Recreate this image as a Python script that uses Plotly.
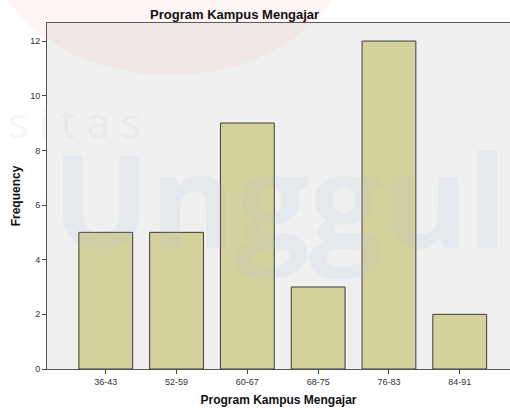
import plotly.graph_objects as go

# data
categories = ["36-43", "52-59", "60-67", "68-75", "76-83", "84-91"]
frequency = [5, 5, 9, 3, 12, 2]
y_ticks = [0, 2, 4, 6, 8, 10, 12]

W, H = 510, 410
L, R, T, B = 47, 0, 23, 41
pw, ph = W - L - R, H - T - B


def px(x):
    return (x - L) / pw


def py(y):
    return (H - B - y) / ph


fig = go.Figure()

fig.add_trace(go.Bar(
    x=list(range(len(categories))),
    y=frequency,
    width=0.76,
    marker=dict(color="#D5D19C", line=dict(color="#3C3C3C", width=1)),
    hoverinfo="skip",
))

# faint watermark (logo background in the original image)
fig.add_shape(type="circle", xref="paper", yref="paper",
              x0=px(-10), x1=px(350), y0=py(75), y1=py(-190),
              line=dict(width=0), fillcolor="rgba(230,130,120,0.07)", layer="above")
fig.add_annotation(text="Unggul", xref="paper", yref="paper",
                   x=px(50), y=py(288), xanchor="left", yanchor="bottom",
                   showarrow=False,
                   font=dict(family="Open Sans", size=130, color="rgba(160,178,210,0.12)",
                             weight="bold"))
fig.add_annotation(text="s i t a s", xref="paper", yref="paper",
                   x=px(6), y=py(152), xanchor="left", yanchor="bottom",
                   showarrow=False,
                   font=dict(family="Open Sans", size=42, color="rgba(190,200,220,0.18)"))

fig.update_layout(
    width=W, height=H,
    margin=dict(l=L, r=R, t=T, b=B, pad=0),
    paper_bgcolor="white",
    plot_bgcolor="#F0F0F0",
    showlegend=False,
    font=dict(family="Liberation Sans, Arial", color="#222"),
    title=dict(text="<b>Program Kampus Mengajar</b>", x=px(260), xanchor="center",
               y=1 - 14 / H, yanchor="middle", font=dict(size=13, color="#111")),
)

fig.update_xaxes(
    range=[-0.83, 5.71],
    tickvals=list(range(len(categories))),
    ticktext=categories,
    ticks="outside", ticklen=4, tickcolor="#444",
    tickfont=dict(size=9, color="#333"),
    showline=True, linecolor="#555", linewidth=1,
    mirror=True, showgrid=False, zeroline=False,
    title=dict(text="<b>Program Kampus Mengajar</b>", font=dict(size=12, color="#111"),
               standoff=9),
)
fig.update_yaxes(
    range=[0, 12.66],
    tickvals=y_ticks,
    ticks="outside", ticklen=4, tickcolor="#444",
    tickfont=dict(size=9, color="#333"),
    showline=True, linecolor="#555", linewidth=1,
    mirror=False, showgrid=False, zeroline=False,
    title=dict(text="<b>Frequency</b>", font=dict(size=12, color="#111"), standoff=6),
)

# drop the default body margin so the 510x410 figure fills the window
fig.write_html("out.html", config={"displayModeBar": False},
               post_script="document.body.style.margin='0';")
